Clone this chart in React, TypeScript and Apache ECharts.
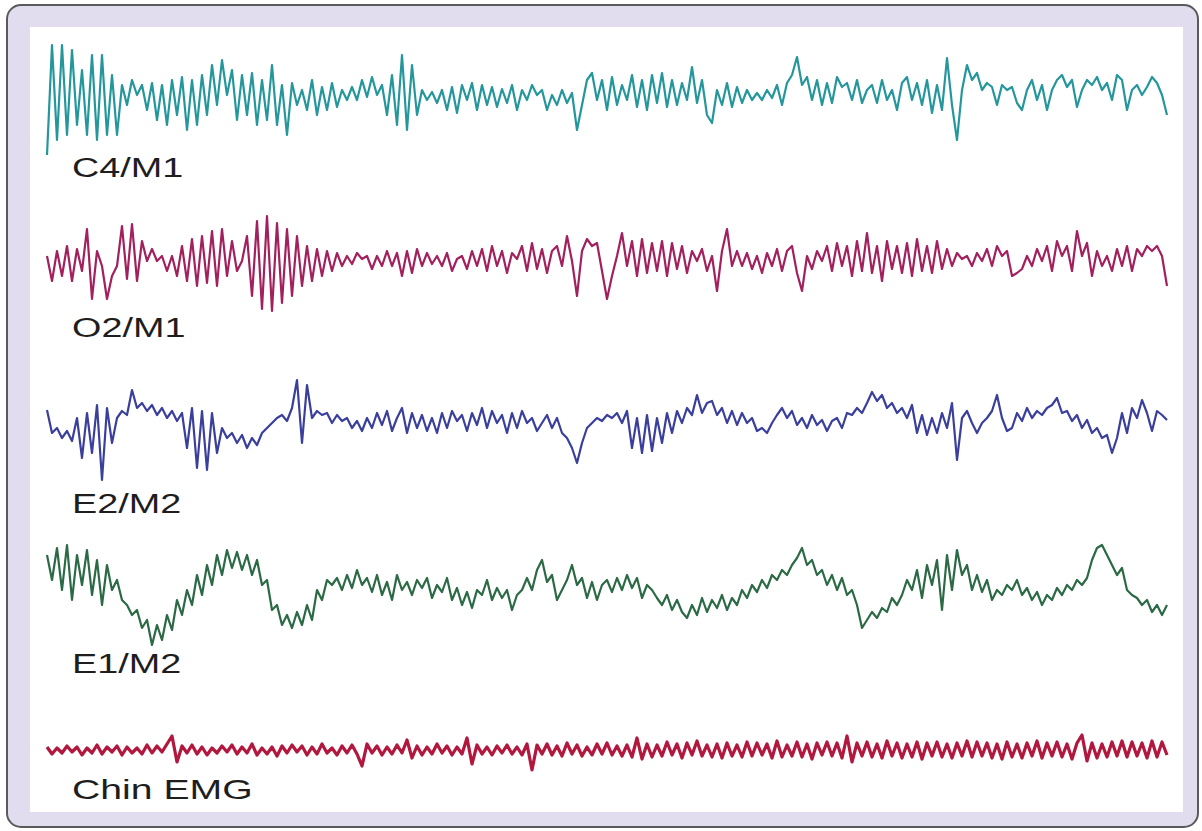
import React, { useEffect, useRef } from "react";
import * as echarts from "echarts";

// Channel names (labels drawn under each trace)
const channels = ["C4/M1", "O2/M1", "E2/M2", "E1/M2", "Chin EMG"];

// Amplitudes (positive = upward), one sample every ~5 px
const c4m1 = [-60,50,-45,50,-40,45,-30,25,-40,40, -45,40,-40,20,-40,10,-10,15,0,10, -15,12,-25,10,-30,15,-20,18,-35,15, -30,20,-20,30,-10,35,0,25,-25,20, -20,22,-30,15,-25,30,-30,10,-40,12, -10,5,-15,15,-20,8,-15,12,-12,5, -5,8,-5,15,-2,18,0,10,-20,20, -30,40,-35,30,-20,5,-5,3,-8,5, -15,8,-18,10,-5,12,-15,10,-10,8, -12,6,-8,10,-15,5,-5,10,0,5, -15,0,-10,5,-8,2,-35,-10,15,22, -5,15,-15,18,-10,10,-5,20,-12,15, -15,20,-8,22,-12,15,-10,12,-5,28, -8,15,-20,-28,5,-10,12,-12,8,-8, 5,-5,2,-5,5,-3,10,-10,12,20, 38,10,18,-5,15,-10,12,-8,18,8, 12,-5,15,-8,5,10,-8,15,-5,5, -15,12,18,-5,12,-10,15,-18,10,-15, 37,-10,-45,5,30,15,22,5,12,8, -10,10,5,8,-8,-15,5,15,-5,10, -15,5,15,20,8,15,-12,5,15,10, 18,5,12,-5,20,15,-15,5,10,0, 8,18,12,0,-20];

const o2m1 = [5,-20,10,-15,15,-20,12,-10,32,-38, 10,-5,-38,-15,-5,35,-18,37,-20,20, 0,12,0,5,-10,5,-15,15,-20,22, -25,25,-22,30,-25,32,-15,20,-10,0, 25,-35,40,-48,45,-50,38,-42,32,-35, 25,-25,15,-20,12,-15,10,-10,8,-5, 5,-3,8,2,5,-8,5,-5,10,-5, 8,-15,10,-12,12,-5,8,-3,5,-5, 8,-10,2,5,-8,10,-5,12,-10,15, -5,10,-12,8,2,15,-10,18,-8,12, -12,10,15,-5,25,0,-35,10,22,15, 18,-10,-38,-15,5,28,-5,20,-15,22, -12,18,-10,20,-15,18,-8,15,-12,10, 0,12,-10,5,-30,10,32,-5,10,-5, 8,-8,5,-12,8,-5,12,-10,10,15, -12,-30,5,-8,10,0,15,-10,18,-5, 15,-15,20,-10,28,-12,15,-20,20,-8, 15,-12,18,-15,22,-10,15,-12,20,-8, 12,-5,8,2,5,-5,8,0,12,-5, 15,5,10,-15,-12,-8,5,-5,12,0, 15,-10,20,5,15,-10,30,5,18,-15, 10,-5,5,-10,12,-5,15,-10,12,5, 15,10,15,5,-25];

const e2m2 = [13,-10,-5,-15,-8,-18,5,-35,10,-30, 18,-57,15,-20,5,12,8,33,15,20, 12,18,8,15,5,12,2,10,-25,15, -45,12,-47,10,-30,-5,-15,-10,-20,-12, -25,-15,-22,-10,-5,0,5,8,2,15, 43,-20,38,5,12,8,10,0,8,2, 5,-5,2,-8,5,-5,10,-2,12,-8, 5,15,-10,10,-5,8,-8,5,-10,10, -5,12,2,8,-8,10,-2,15,-5,12, 0,8,-10,10,-5,12,0,5,-8,0, 8,-5,5,-10,-15,-25,-40,-20,-5,0, 5,2,8,5,10,0,12,-25,5,-30, 8,-28,5,-20,10,-10,12,0,15,8, 28,10,20,22,8,15,0,12,-2,10, 0,5,-8,-5,-10,0,8,15,5,12, -2,5,-5,8,-2,3,-8,2,5,-5, 10,8,15,10,20,31,22,28,15,20, 10,15,5,18,-10,8,-12,5,-10,10, -5,20,-37,5,12,0,-10,0,5,12, 28,5,-8,-5,10,2,15,5,12,8, 15,18,25,10,12,2,8,-5,3,-10, -5,-15,-12,-30,-15,10,-10,15,5,23, 10,-8,12,8,3];

const e1m2 = [40,15,47,5,50,-5,40,10,45,0, 35,-10,30,5,15,-5,-10,-20,-15,-33, -25,-50,-30,-45,-20,-35,-5,-20,5,-10, 20,0,30,10,40,20,45,27,43,25, 40,20,35,10,15,-15,-10,-30,-20,-33, -17,-30,-10,-25,5,-5,15,10,17,5, 20,7,25,10,17,3,20,0,13,-5, 20,5,13,0,15,7,17,-3,10,3, 17,-5,7,-10,3,-13,5,0,15,-5, 7,-3,5,-15,0,5,17,5,25,35, 13,20,-5,5,15,30,10,17,-3,13, -5,10,15,3,17,5,20,7,17,-3, 10,5,-3,-10,0,-15,-5,-17,-23,-10, -20,-3,-17,-5,-13,0,-15,-3,-10,5, -3,10,3,15,7,20,15,25,20,30, 37,47,30,35,20,25,10,20,5,17, 0,5,-10,-33,-25,-17,-23,-13,-17,-3, -10,0,15,5,25,-3,30,10,35,-15, 40,5,45,20,30,5,20,3,15,-5, 5,0,10,5,15,0,7,-5,3,-10, 0,-5,7,0,10,5,15,10,17,35, 47,50,40,30,20,27,5,0,-3,-10, -5,-17,-10,-20,-10];

const chinEmg = [3,-4,2,-3,4,-2,3,-5,2,-3,5,-4,3,-2,4,-5,3,-3,2,-4,5,-3,4,-2,6, 14,-12,4,-3,5, -4,3,-5,2,-3,4,-2,5,-4,3,-3,6,-5,2,-4,3,-6,4,-3,5,-2,4,-5,3,-4,6,-3,2,-5,4,-3,5,-4, -16,6,-3,4,-5,3,-4,5,-3, 10,-8,4,-5,3,-4,6,-3,4,-5,3,-4, 12,-14,5,-4,3,-5,4,-3,5,-4,3,-5, 6,-20,5,-4, 6,-5,4,-6,7,-4,5,-6,3,-5,6,-4,7,-5,4,-6,5,-7, 12,-9, 6,-7,5,-6,8,-5,6,-8,7,-5,9,-6,5,-7,6,-8,7,-6,5,-7,8,-6,7,-5,6,-8,9,-7,5,-6,8,-7,6,-9,7,-5,8,-6,7,-8, 14,-12, 7,-6,8,-7,6,-8,9,-6,7,-8,6,-7,8,-9,7,-6,8,-7,6,-8,7,-6,9,-7,8,-6,7,-8,6,-9,8,-7,6,-8,7,-6,9,-8,7,-6,8,-7,6,-9,7, 15,-11, 7,-8,6,-7,8,-6,9,-7,8,-6,7,-8,9,-7,8,-5];

const traces = [c4m1, o2m1, e2m2, e1m2, chinEmg];
const colors = ["#25979c", "#a2205d", "#3a3f9c", "#2b6a45", "#b2173d"];

// layout (pixels)
const centers = [95, 261, 423, 595, 750];
const labelY = [167, 327, 503, 663, 789];
const labelScale = [1.35, 1.35, 1.35, 1.35, 1.4];
const HALF = 60;

export default function App() {
  const ref = useRef<HTMLDivElement>(null);
  useEffect(() => {
    if (!ref.current) return;
    const chart = echarts.init(ref.current, undefined, { renderer: "svg" });
    const grids = centers.map((c) => ({ left: 47, right: 35, top: c - HALF, height: HALF * 2 }));
    const xAxes = traces.map((d, i) => ({ type: "value", gridIndex: i, min: 0, max: d.length - 1, show: false }));
    const yAxes = traces.map((_, i) => ({ type: "value", gridIndex: i, min: -HALF, max: HALF, show: false }));
    const series = traces.map((d, i) => ({
      type: "line",
      name: channels[i],
      xAxisIndex: i,
      yAxisIndex: i,
      data: d.map((v, k) => [k, v]),
      showSymbol: false,
      silent: true,
      z: 5,
      lineStyle: { color: colors[i], width: i === 4 ? 3.2 : 2.2, join: "round" },
    }));
    const labels = channels.map((t, i) => ({
      type: "text",
      x: 72,
      y: labelY[i],
      scaleX: labelScale[i],
      z: 10,
      style: {
        text: t,
        x: 0,
        y: 0,
        font: '28px "Liberation Sans", Arial, sans-serif',
        fill: "#1e1e1e",
        textAlign: "left",
        textVerticalAlign: "middle",
        align: "left",
        verticalAlign: "middle",
      },
    }));
    chart.setOption({
      animation: false,
      backgroundColor: "#ffffff",
      grid: grids,
      xAxis: xAxes,
      yAxis: yAxes,
      series,
      graphic: [
        {
          type: "rect",
          z: 0,
          shape: { x: 7, y: 5, width: 1191, height: 822, r: 14 },
          style: { fill: "#e1ddef", stroke: "#5a5a5a", lineWidth: 2 },
        },
        {
          type: "rect",
          z: 1,
          shape: { x: 30, y: 27, width: 1153, height: 785 },
          style: { fill: "#ffffff" },
        },
        ...labels,
      ],
    });
    return () => chart.dispose();
  }, []);
  return <div ref={ref} style={{ position: "absolute", left: 0, top: 0, width: 1202, height: 831 }} />;
}
